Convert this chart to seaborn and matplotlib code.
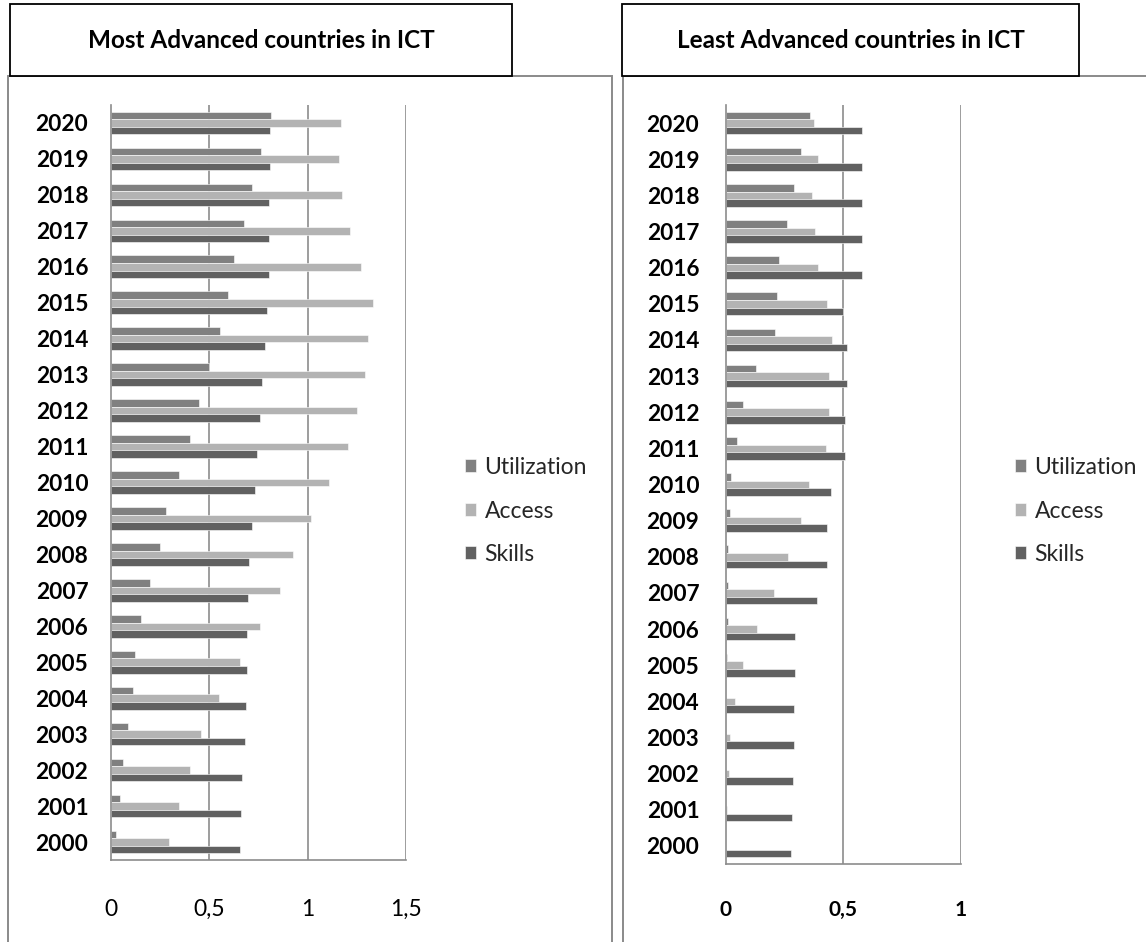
import matplotlib
matplotlib.use("Agg")
import matplotlib.pyplot as plt
import numpy as np
import pandas as pd
import seaborn as sns
from matplotlib.patches import Rectangle
from matplotlib.ticker import FixedLocator

# ---------------------------------------------------------------- data
years = [str(y) for y in range(2020, 1999, -1)]          # top -> bottom
series = ["Utilization", "Access", "Skills"]
colors = ["#808080", "#b3b3b3", "#616161"]

most_utilization = [0.816, 0.764, 0.720, 0.679, 0.628, 0.595, 0.556, 0.502, 0.451, 0.405, 0.348,
                    0.283, 0.251, 0.199, 0.153, 0.126, 0.113, 0.087, 0.061, 0.046, 0.028]
most_access = [1.168, 1.162, 1.175, 1.214, 1.273, 1.331, 1.305, 1.292, 1.253, 1.207, 1.111,
               1.018, 0.926, 0.862, 0.757, 0.659, 0.552, 0.459, 0.402, 0.349, 0.295]
most_skills = [0.810, 0.810, 0.803, 0.803, 0.803, 0.796, 0.784, 0.771, 0.757, 0.745, 0.732,
               0.720, 0.705, 0.700, 0.693, 0.693, 0.689, 0.683, 0.669, 0.663, 0.657]

least_utilization = [0.361, 0.322, 0.289, 0.261, 0.228, 0.217, 0.211, 0.128, 0.073, 0.046, 0.024,
                     0.017, 0.011, 0.011, 0.011, 0.006, 0.003, 0.002, 0.001, 0.001, 0.000]
least_access = [0.376, 0.394, 0.366, 0.382, 0.394, 0.432, 0.454, 0.438, 0.438, 0.427, 0.355,
                0.322, 0.267, 0.205, 0.134, 0.073, 0.041, 0.019, 0.013, 0.007, 0.002]
least_skills = [0.582, 0.582, 0.582, 0.582, 0.582, 0.501, 0.516, 0.516, 0.510, 0.510, 0.450,
                0.432, 0.432, 0.388, 0.295, 0.295, 0.293, 0.293, 0.287, 0.282, 0.277]

left_title = "Most Advanced countries in ICT"
right_title = "Least Advanced countries in ICT"
left_ticks = [0, 0.5, 1, 1.5]
left_ticklabels = ["0", "0,5", "1", "1,5"]
right_ticks = [0, 0.5, 1]
right_ticklabels = ["0", "0,5", "1"]


def long_frame(util, acc, sk):
    return pd.DataFrame({
        "year": years * 3,
        "series": [series[0]] * len(years) + [series[1]] * len(years) + [series[2]] * len(years),
        "value": list(util) + list(acc) + list(sk),
    })


most_df = long_frame(most_utilization, most_access, most_skills)
least_df = long_frame(least_utilization, least_access, least_skills)

# ---------------------------------------------------------------- style
sns.set_style("white")
plt.rcParams["font.family"] = ["Lato", "DejaVu Sans"]

W, H = 1146, 942
fig = plt.figure(figsize=(W / 100, H / 100), dpi=100)
fig.patch.set_facecolor("white")


def fx(x):
    return x / W


def fy(y):
    return 1 - y / H


GRID = "#8c8c8c"
FRAME = "#8a8a8a"

# panel frames and title boxes (figure pixel coordinates)
for (x0, x1) in [(8, 612), (623, 1170)]:
    fig.add_artist(Rectangle((fx(x0), fy(990)), fx(x1) - fx(x0), fy(76) - fy(990),
                             transform=fig.transFigure, facecolor="none",
                             edgecolor=FRAME, lw=1.4, clip_on=False, zorder=0))
for (x0, x1), title in [((10, 512), left_title), ((622, 1079), right_title)]:
    fig.add_artist(Rectangle((fx(x0), fy(76)), fx(x1) - fx(x0), fy(4) - fy(76),
                             transform=fig.transFigure, facecolor="white",
                             edgecolor="black", lw=1.3, zorder=1))
    fig.text(fx((x0 + x1) / 2), fy(40), title, ha="center", va="center",
             fontsize=17.5, fontweight="bold", color="black", zorder=2)


def draw_panel(rect, df, xmax, ticks, ticklabels, tick_bold, tick_size, tick_pad,
               ylab_pad, legend_x):
    ax = fig.add_axes(rect)
    sns.barplot(data=df, x="value", y="year", hue="series", order=years,
                hue_order=series, palette=colors, orient="h", width=0.63,
                saturation=1, errorbar=None, edgecolor="white", linewidth=0.4, ax=ax)
    ax.set_xlim(0, xmax)
    ax.set_ylim(len(years) - 0.5, -0.5)
    ax.set_xlabel("")
    ax.set_ylabel("")
    ax.set_facecolor("none")

    for s in ["top", "right"]:
        ax.spines[s].set_visible(False)
    for s in ["left", "bottom"]:
        ax.spines[s].set_color(GRID)
        ax.spines[s].set_linewidth(1.2)

    ax.set_xticks(ticks)
    ax.set_xticklabels(ticklabels, fontsize=tick_size,
                       fontweight="bold" if tick_bold else "normal")
    ax.tick_params(axis="x", direction="out", length=7, width=1.1, color=GRID,
                   pad=tick_pad, labelcolor="black")
    for t in ticks[1:]:
        ax.axvline(t, color=GRID, lw=1.2, zorder=0)

    ax.set_yticks(range(len(years)))
    ax.set_yticklabels(years, fontsize=16.3, fontweight="bold")
    ax.tick_params(axis="y", which="major", length=0, pad=ylab_pad, labelcolor="black")
    ax.yaxis.set_minor_locator(FixedLocator(np.arange(-0.5, len(years), 1.0)))
    ax.tick_params(axis="y", which="minor", direction="out", length=8, width=1.1, color=GRID)

    sns.move_legend(ax, loc="center left",
                    bbox_to_anchor=(fx(legend_x), fy(511)),
                    bbox_transform=fig.transFigure, frameon=False, title=None,
                    fontsize=16.5, handlelength=0.5, handleheight=0.5,
                    handletextpad=0.35, labelspacing=0.98, borderpad=0, borderaxespad=0)
    return ax


draw_panel([fx(110.5), fy(860), fx(406) - fx(110.5), fy(105) - fy(860)],
           most_df, 1.5, left_ticks, left_ticklabels, False, 16.5, 21, 16, 465)
draw_panel([fx(725.7), fy(864), fx(960.5) - fx(725.7), fy(105) - fy(864)],
           least_df, 1.0, right_ticks, right_ticklabels, True, 15, 19, 19, 1015)

fig.savefig("out.png", dpi=100, facecolor="white")
